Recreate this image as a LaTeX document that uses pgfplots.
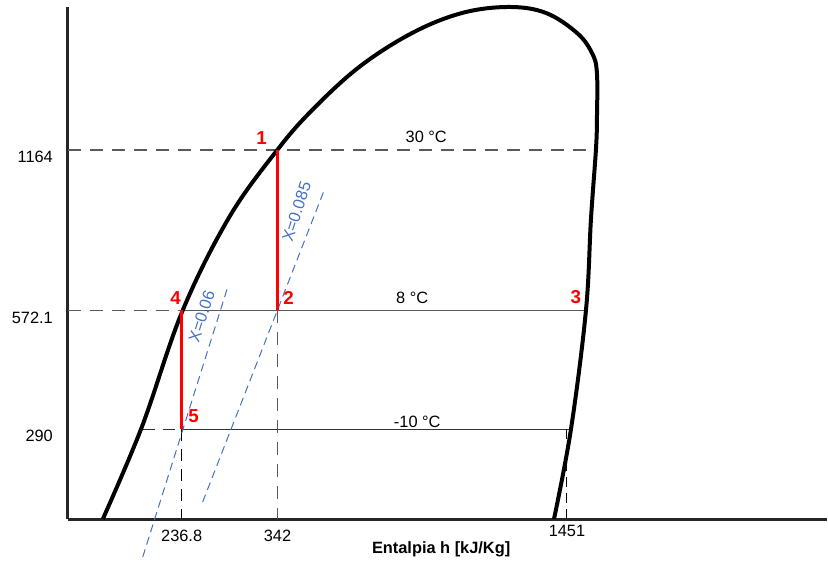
\documentclass[border=0pt]{standalone}
\usepackage{pgfplots}
\pgfplotsset{compat=1.18}
\usepackage{fontspec}
\setmainfont{Liberation Sans}

\definecolor{qblue}{RGB}{68,114,196}
\definecolor{dgray}{RGB}{90,90,90}
\definecolor{pred}{RGB}{255,0,0}

% schematic P-h sketch, coordinates in picture units (x = h, y = p)
\pgfplotstableread{
x y
103 0
142 92
183 209
230 303
278 370
313 410
360 453
413 487
463 507
510 513
547 507
578 487
593 467
598 447
598 400
597 370
592 300
587 209
572 90
555 0
}\dome

\newcommand{\lbl}{\fontsize{8.2}{10}\selectfont}
\newcommand{\num}{\fontsize{9.4}{11}\selectfont\bfseries}

\begin{document}
\begin{tikzpicture}
\begin{axis}[
    scale only axis,
    width=380pt, height=256.5pt,
    xmin=68, xmax=828, ymin=0, ymax=513,
    axis lines=left,
    axis line style={-, line width=1.5pt, black!85},
    clip=false,
    major tick length=0pt,
    xtick={182,278}, xticklabels={236.8,342},
    extra x ticks={568}, extra x tick labels={1451},
    extra x tick style={tick label style={yshift=2.5pt}},
    ytick={90,209,370}, yticklabels={290,572.1,1164},
    tick label style={font=\lbl},
    xticklabel style={yshift=-2pt},
    yticklabel style={yshift=-3.5pt, xshift=-4pt},
    xlabel={\textbf{Entalpia h [kJ/Kg]}},
    xlabel style={at={(axis description cs:0.492,-0.0585)}, anchor=center, font=\lbl},
]
% page frame
\addplot[draw=none, forget plot] coordinates {(0,-41) (828,520)};

% isobars / reference lines
\addplot[dgray, line width=0.8pt, dash pattern=on 6.5pt off 4.5pt] coordinates {(68,370) (597,370)};
\addplot[dgray, line width=0.8pt, dash pattern=on 6.5pt off 4.5pt] coordinates {(68,209) (182,209)};
\addplot[dgray, line width=0.7pt] coordinates {(182,209) (587,209)};
\addplot[black!80, line width=0.5pt, dash pattern=on 6pt off 4pt] coordinates {(143,90) (182,90)};
\addplot[black!80, line width=0.5pt] coordinates {(182,90) (570,90)};
\addplot[black, line width=0.5pt, dash pattern=on 6pt off 4pt] coordinates {(182,90) (182,0)};
\addplot[dgray, line width=0.8pt, dash pattern=on 6.5pt off 4.5pt] coordinates {(278,209) (278,0)};
\addplot[black, line width=0.5pt, dash pattern=on 5pt off 3pt] coordinates {(568,90) (568,0)};

% quality lines
\addplot[qblue, line width=0.5pt, dash pattern=on 4pt off 2.5pt] coordinates {(143,-38) (228,232)};
\addplot[qblue, line width=0.5pt, dash pattern=on 4pt off 2.5pt] coordinates {(203,17) (325,330)};

% saturation dome
\addplot[black, line width=2pt, smooth, tension=0.6] table {\dome};

% cycle
\addplot[pred, line width=1.5pt] coordinates {(278,370) (278,209)};
\addplot[pred, line width=1.5pt] coordinates {(182,209) (182,90)};

% labels
\node[font=\num, text=pred] at (axis cs:262,382) {1};
\node[font=\num, text=pred] at (axis cs:289,221) {2};
\node[font=\num, text=pred] at (axis cs:577,222) {3};
\node[font=\num, text=pred] at (axis cs:176,221) {4};
\node[font=\num, text=pred] at (axis cs:194,103) {5};

\node[font=\lbl] at (axis cs:427,383) {30 °C};
\node[font=\lbl] at (axis cs:413,222) {8 °C};
\node[font=\lbl] at (axis cs:418,97) {-10 °C};

\node[font=\lbl, text=qblue, rotate=72] at (axis cs:202,203) {X=0.06};
\node[font=\lbl, text=qblue, rotate=72] at (axis cs:297,308) {X=0.085};
\end{axis}
\end{tikzpicture}
\end{document}
